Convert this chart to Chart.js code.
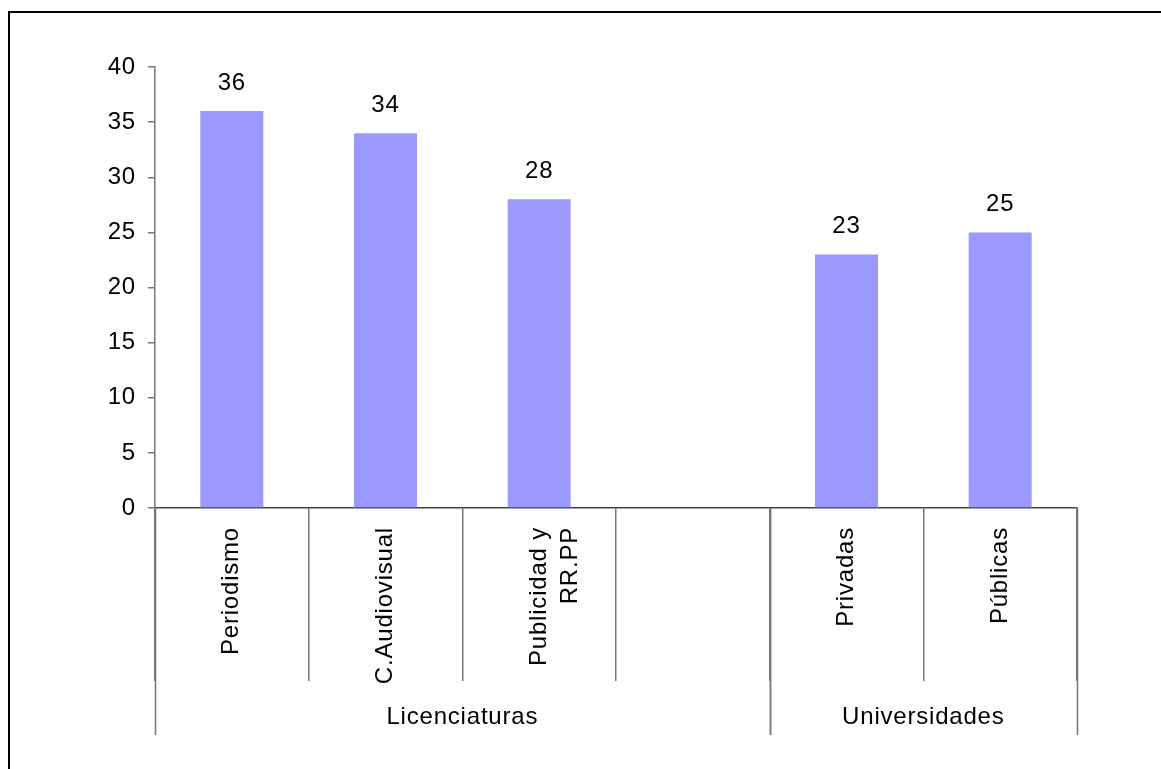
<!DOCTYPE html>
<html>
<head>
<meta charset="utf-8">
<script src="https://cdn.jsdelivr.net/npm/chart.js@4"></script>
<style>
  html, body { margin: 0; padding: 0; background: #fff; }
  #wrap { width: 1161px; height: 769px; position: relative; }
</style>
</head>
<body>
<div id="wrap"><canvas id="chart" width="1161" height="769"></canvas></div>
<script>
// data
const categories = ["Periodismo", "C.Audiovisual", ["Publicidad y", "RR.PP"], "", "Privadas", "Públicas"];
const values     = [36, 34, 28, null, 23, 25];
const groups     = ["Licenciaturas", "Universidades"];
const groupSpans = [[0, 3], [4, 5]];   // first and last category index of each group
const yTicks     = { min: 0, max: 40, step: 5 };

const FONT = "'Liberation Sans', Arial, sans-serif";
const FONT_SIZE = 24;
const SPACING = "0.8px";
const BAR_COLOR = "#9999ff";
const LINE_COLOR = "#777777";

Chart.defaults.font.family = FONT;
Chart.defaults.color = "#000";

// the original text is a little wider than Liberation Sans
const spacing = {
  id: "spacing",
  beforeInit(chart) { chart.ctx.letterSpacing = SPACING; },
  beforeLayout(chart) { chart.ctx.letterSpacing = SPACING; },
  beforeDraw(chart) { chart.ctx.letterSpacing = SPACING; }
};

// frame, data labels, group dividers and group names
const extras = {
  id: "extras",
  afterDraw(chart) {
    const ctx = chart.ctx;
    const x = chart.scales.x;
    const area = chart.chartArea;
    ctx.save();
    ctx.letterSpacing = SPACING;

    // outer frame (only top/left visible in the crop)
    ctx.strokeStyle = "#000";
    ctx.lineWidth = 2;
    ctx.strokeRect(9, 12, 1200, 800);

    // values above bars
    ctx.font = FONT_SIZE + "px " + FONT;
    ctx.fillStyle = "#000";
    ctx.textAlign = "center";
    ctx.textBaseline = "middle";
    chart.getDatasetMeta(0).data.forEach((bar, i) => {
      if (values[i] == null) return;
      ctx.fillText(String(values[i]), bar.x, bar.y - 28);
    });

    // group dividers and names
    const half = (x.getPixelForValue(1) - x.getPixelForValue(0)) / 2;
    ctx.strokeStyle = LINE_COLOR;
    ctx.lineWidth = 1.5;
    groupSpans.forEach((span, g) => {
      const left = x.getPixelForValue(span[0]) - half;
      const right = x.getPixelForValue(span[1]) + half;
      [left, right].forEach(px => {
        ctx.beginPath();
        ctx.moveTo(Math.round(px) + 0.5, area.bottom);
        ctx.lineTo(Math.round(px) + 0.5, area.bottom + 227);
        ctx.stroke();
      });
      ctx.fillText(groups[g], (left + right) / 2, area.bottom + 209);
    });
    ctx.restore();
  }
};

new Chart(document.getElementById("chart"), {
  type: "bar",
  data: {
    labels: categories,
    datasets: [{
      data: values,
      backgroundColor: BAR_COLOR,
      borderWidth: 0,
      categoryPercentage: 1,
      barPercentage: 0.41
    }]
  },
  options: {
    responsive: false,
    animation: false,
    layout: { padding: { top: 67, right: 84, left: 0, bottom: 0 } },
    plugins: { legend: { display: false }, tooltip: { enabled: false } },
    scales: {
      x: {
        grid: {
          offset: true,
          drawOnChartArea: false,
          tickLength: 173,
          color: LINE_COLOR,
          lineWidth: 1.5
        },
        border: { color: "#444", width: 1.5 },
        ticks: {
          font: { size: FONT_SIZE, lineHeight: 1.3 },
          color: "#000",
          minRotation: 90,
          maxRotation: 90,
          padding: -154,
          autoSkip: false
        },
        afterFit(scale) { scale.height = 769 - 508; }
      },
      y: {
        min: yTicks.min,
        max: yTicks.max,
        grid: { drawOnChartArea: false, tickLength: 7, color: LINE_COLOR, lineWidth: 1.5 },
        border: { color: LINE_COLOR, width: 1.5 },
        ticks: { stepSize: yTicks.step, font: { size: FONT_SIZE }, color: "#000", padding: 12 },
        afterFit(scale) { scale.width = 155; }
      }
    }
  },
  plugins: [spacing, extras]
});
</script>
</body>
</html>
